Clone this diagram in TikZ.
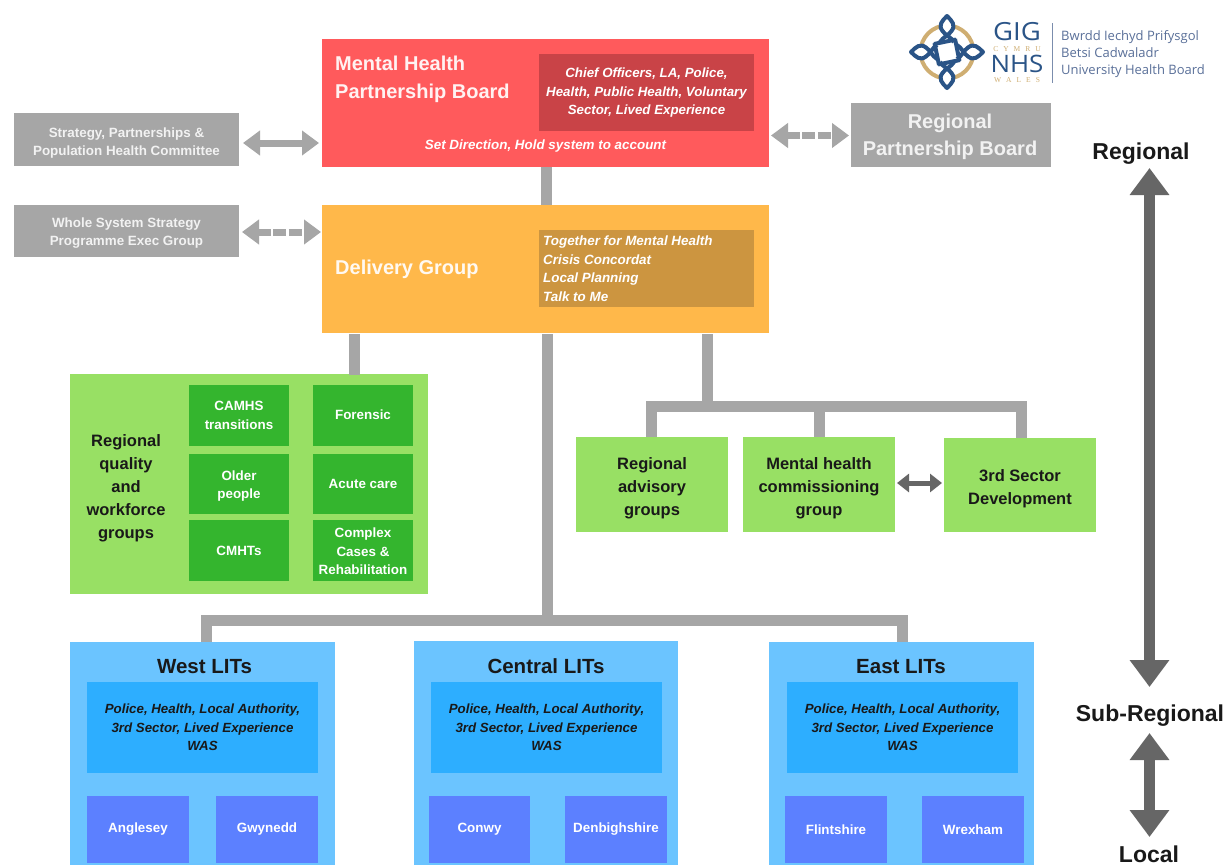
\documentclass[tikz,border=0pt]{standalone}
\usepackage{fontspec}
\setmainfont{Liberation Sans}
\newfontfamily\logoserif{Liberation Serif}
\newfontfamily\logosans{Open Sans}
\usetikzlibrary{arrows.meta,calc}
\definecolor{cred}{HTML}{FF5A5C}
\definecolor{cdred}{HTML}{C94347}
\definecolor{corange}{HTML}{FFB84A}
\definecolor{cdorange}{HTML}{CC9540}
\definecolor{cgrey}{HTML}{A6A6A6}
\definecolor{clgreen}{HTML}{98E064}
\definecolor{cdgreen}{HTML}{34B52E}
\definecolor{clblue}{HTML}{6BC4FF}
\definecolor{cmblue}{HTML}{2DAEFF}
\definecolor{cpblue}{HTML}{5C80FF}
\definecolor{cdark}{HTML}{666666}
\definecolor{clogo}{HTML}{2A5487}
\definecolor{cgold}{HTML}{CFAE72}
\definecolor{clogot}{HTML}{5A7099}
\tikzset{
  x=1pt,y=-1pt,
  box/.style={draw=none,fill=#1,inner sep=0pt,outer sep=0pt,align=center,text=white,font=\bfseries},
  bus/.style={draw=cgrey,line width=11pt},
  linkarrow/.style={draw=cgrey,line width=7pt,{Triangle[length=17pt,width=24pt]}-{Triangle[length=17pt,width=24pt]}},
  dashlink/.style={linkarrow,dash pattern=on 13pt off 2.5pt},
  scalearrow/.style={draw=cdark,line width=11pt,{Triangle[length=27pt,width=38pt]}-{Triangle[length=27pt,width=38pt]}},
  darkarrow/.style={draw=cdark,line width=5pt,{Triangle[length=12pt,width=18pt]}-{Triangle[length=12pt,width=18pt]}},
  lab/.style={inner sep=0pt,align=center,font=\bfseries},
  small/.style={lab,text=white,font=\bfseries\fontsize{13.4}{18.3}\selectfont},
  mid/.style={lab,text=black!90,font=\bfseries\fontsize{16.5}{23}\selectfont},
  big/.style={lab,text=black!90,font=\bfseries\fontsize{23}{28}\selectfont},
  knot/.style={clogo,line width=4pt,line join=round},
}
\newcommand{\boxat}[6]{\node[box=#6,minimum width=#3pt,minimum height=#4pt,anchor=north west] (#5) at (#1,#2) {};}
\begin{document}
\begin{tikzpicture}
\useasboundingbox (0,0) rectangle (1228,865);
\fill[white] (0,0) rectangle (1228,865);
% connector way points
\coordinate (dlb) at (354,334);
\coordinate (qgt) at (354,375);
\coordinate (cx) at (547,334);
\coordinate (rx) at (707,334);
\coordinate (bus2) at (707,406);
\coordinate (busL) at (651.5,406);
\coordinate (busM) at (819,406);
\coordinate (busR) at (1021,406);
\coordinate (busW) at (206,620);
\coordinate (busC) at (547,620);
\coordinate (busE) at (902,620);
% boxes
\boxat{322}{39}{447}{128}{mhpb}{cred}
\boxat{539}{54}{215}{77}{mhpbin}{cdred}
\boxat{322}{205}{447}{128}{dg}{corange}
\boxat{539}{230}{215}{77}{dgin}{cdorange}
\boxat{14}{113}{225}{53}{spc}{cgrey}
\boxat{14}{205}{225}{52}{wss}{cgrey}
\boxat{851}{103}{200}{64}{rpb}{cgrey}
\boxat{70}{374}{358}{220}{qual}{clgreen}
\boxat{189}{385}{100}{61}{camhs}{cdgreen}
\boxat{313}{385}{100}{61}{foren}{cdgreen}
\boxat{189}{454}{100}{60}{older}{cdgreen}
\boxat{313}{454}{100}{60}{acute}{cdgreen}
\boxat{189}{520}{100}{61}{cmht}{cdgreen}
\boxat{313}{520}{100}{61}{compl}{cdgreen}
\boxat{576}{437}{152}{95}{adv}{clgreen}
\boxat{743}{437}{152}{95}{comm}{clgreen}
\boxat{944}{438}{152}{94}{third}{clgreen}
\boxat{70}{642}{265}{223}{west}{clblue}
\boxat{87}{682}{231}{91}{westin}{cmblue}
\boxat{87}{796}{102}{67}{angl}{cpblue}
\boxat{216}{796}{102}{67}{gwyn}{cpblue}
\boxat{414}{641}{264}{224}{cent}{clblue}
\boxat{431}{682}{231}{91}{centin}{cmblue}
\boxat{429}{796}{101}{67}{conw}{cpblue}
\boxat{565}{796}{102}{67}{denb}{cpblue}
\boxat{769}{642}{265}{223}{east}{clblue}
\boxat{787}{682}{231}{91}{eastin}{cmblue}
\boxat{785}{796}{102}{67}{flin}{cpblue}
\boxat{922}{796}{102}{67}{wrex}{cpblue}
% grey connectors
\draw[bus] (mhpb.south -| 546,0) -- (dg.north -| 546,0);
\draw[bus] (dlb) -- (qgt);
\draw[bus] (cx) -- (busC);
\draw[bus] (rx) -- (bus2);
\draw[bus] (busL |- adv.north) -- (busL) -- (busR) -- (busR |- third.north);
\draw[bus] (busM) -- (busM |- comm.north);
\draw[bus] (busW |- west.north) -- (busW) -- (busE) -- (busE |- east.north);
\coordinate (a1) at (243,143); \coordinate (a2) at (319,143);
\draw[linkarrow] (a1) -- (a2);
\coordinate (a3) at (242,232); \coordinate (a4) at (321,232);
\draw[dashlink] (a3) -- (a4);
\coordinate (a5) at (771,135.5); \coordinate (a6) at (849,135.5);
\draw[dashlink] (a5) -- (a6);
\coordinate (a7) at (897,483); \coordinate (a8) at (942,483);
\draw[darkarrow] (a7) -- (a8);
% scale
\node[big] (sreg) at (1141,153.5) {Regional};
\node[big] (ssub) at (1150,715.5) {Sub-Regional};
\node[big] (sloc) at (1149,854) {Local};
\coordinate (s1) at (1149.5,168); \coordinate (s2) at (1149.5,687);
\coordinate (s3) at (1149.5,733); \coordinate (s4) at (1149.5,837);
\draw[scalearrow] (s1) -- (s2);
\draw[scalearrow] (s3) -- (s4);
% texts
\node[lab,text=white!95!red,anchor=north west,align=left,font=\bfseries\fontsize{20}{27.5}\selectfont] (t1) at (335,56) {Mental Health\\Partnership Board};
\node[small,font=\bfseries\itshape\fontsize{13.3}{18.5}\selectfont] at ($(mhpbin.center)+(0,0.5)$) {Chief Officers, LA, Police,\\Health, Public Health, Voluntary\\Sector, Lived Experience};
\node[small,font=\bfseries\itshape\fontsize{13.4}{16}\selectfont] at (545.5,146) {Set Direction, Hold system to account};
\node[lab,text=white!95!orange,anchor=west,font=\bfseries\fontsize{20}{24}\selectfont] at (335,269.5) {Delivery Group};
\node[small,anchor=west,align=left,font=\bfseries\itshape\fontsize{13.4}{18.5}\selectfont] at (543,268.5) {Together for Mental Health\\Crisis Concordat\\Local Planning\\Talk to Me};
\node[small,text=white!90!gray] at ($(spc.center)+(0,3.5)$) {Strategy, Partnerships \&\\Population Health Committee};
\node[small,text=white!90!gray] at ($(wss.center)+(0,2)$) {Whole System Strategy\\Programme Exec Group};
\node[lab,text=white!90!gray,font=\bfseries\fontsize{20}{27}\selectfont] at ($(rpb.center)+(-1,2)$) {Regional\\Partnership Board};
\node[mid] at (126,488) {Regional\\quality\\and\\workforce\\groups};
\node[small] at (camhs.center) {CAMHS\\transitions};
\node[small] at ($(foren.center)+(0,-1)$) {Forensic};
\node[small] at ($(older.center)+(0,2)$) {Older\\people};
\node[small] at (acute.center) {Acute care};
\node[small] at (cmht.center) {CMHTs};
\node[small] at ($(compl.center)+(0,1)$) {Complex\\Cases \&\\Rehabilitation};
\node[mid] at ($(adv.center)+(0,3.5)$) {Regional\\advisory\\groups};
\node[mid] at ($(comm.center)+(0,3.5)$) {Mental health\\commissioning\\group};
\node[mid] at ($(third.center)+(0,3.5)$) {3rd Sector\\Development};
\foreach \t/\xx in {West LITs/204.5,Central LITs/546,East LITs/901}{
  \node[lab,text=black!90,font=\bfseries\fontsize{20.5}{24}\selectfont] at (\xx,666.5) {\t};
}
\foreach \n in {westin,centin,eastin}{
  \node[small,text=black!90,font=\bfseries\itshape\fontsize{13.3}{18.3}\selectfont] at (\n.center) {Police, Health, Local Authority,\\3rd Sector, Lived Experience\\WAS};
}
\foreach \n/\t in {angl/Anglesey,gwyn/Gwynedd,conw/Conwy,denb/Denbighshire,flin/Flintshire,wrex/Wrexham}{
  \node[small] at (\n.center) {\t};
}
% logo
\draw[cgold,line width=4pt] (947,52) circle (26.5);
\begin{scope}[shift={(947,52)}]
 \foreach \a in {0,90,180,270}{
  \begin{scope}[rotate=\a]
   \fill[white] (-5,-21) .. controls (-10,-27) and (-5,-32) .. (0,-37) .. controls (5,-32) and (10,-27) .. (5,-21) -- (0,-15) -- cycle;
   \draw[knot] (7,-10) .. controls (4,-15) and (-1,-16) .. (-4.5,-21) .. controls (-9,-27) and (-5,-31) .. (0,-36) .. controls (5,-31) and (9,-27) .. (4.5,-21) .. controls (1,-16) and (-4,-15) .. (-7,-10);
   \draw[knot] (-13,-8) -- (9,-12.5);
  \end{scope}
 }
\end{scope}
\node[inner sep=0pt,text=clogo,xscale=1.1,font=\logosans\fontsize{25}{25}\selectfont] at (1017,31.5) {GIG};
\node[inner sep=0pt,text=cgold,font=\logoserif\fontsize{7.5}{7.5}\selectfont] at (1017,49.5) {C\hspace{5pt}Y\hspace{5pt}M\hspace{5pt}R\hspace{5pt}U};
\node[inner sep=0pt,text=clogo,xscale=1.08,font=\logosans\fontsize{24}{24}\selectfont] at (1017,64) {NHS};
\node[inner sep=0pt,text=cgold,font=\logoserif\fontsize{7.5}{7.5}\selectfont] at (1017,80.5) {W\hspace{5pt}A\hspace{5pt}L\hspace{5pt}E\hspace{5pt}S};
\draw[clogot!80!white,line width=1.5pt] (1052.5,23) -- (1052.5,83);
\node[inner sep=0pt,anchor=west,align=left,text=clogot,font=\logosans\fontsize{13}{17.2}\selectfont] at (1061,54) {Bwrdd Iechyd Prifysgol\\Betsi Cadwaladr\\University Health Board};
\end{tikzpicture}
\end{document}
